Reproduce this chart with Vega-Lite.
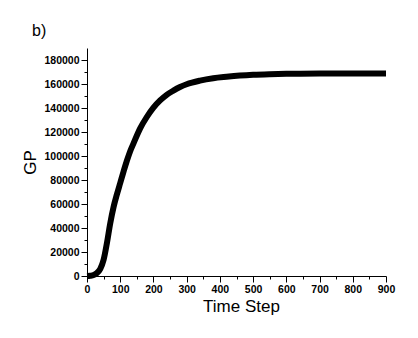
{
  "$schema": "https://vega.github.io/schema/vega-lite/v6.json",
  "width": 299,
  "height": 228,
  "autosize": {"type": "none"},
  "padding": {"left": 87, "top": 48, "right": 32, "bottom": 62},
  "background": "white",
  "title": {"text": "b)", "anchor": "start", "frame": "group", "dx": -55, "dy": 12, "offset": 8, "baseline": "alphabetic", "font": "Liberation Sans", "fontSize": 16, "fontWeight": "normal", "color": "black"},
  "config": {"view": {"stroke": null}},
  "data": {"values": [
    {"t": 0, "v": 0}, {"t": 10, "v": 200}, {"t": 20, "v": 800}, {"t": 30, "v": 2500},
    {"t": 40, "v": 6000}, {"t": 50, "v": 13500}, {"t": 60, "v": 27500}, {"t": 70, "v": 44000},
    {"t": 80, "v": 57500}, {"t": 90, "v": 68000}, {"t": 100, "v": 77500}, {"t": 110, "v": 87000},
    {"t": 120, "v": 96000}, {"t": 130, "v": 104000}, {"t": 140, "v": 110500}, {"t": 160, "v": 123000},
    {"t": 180, "v": 132500}, {"t": 200, "v": 140300}, {"t": 220, "v": 146300}, {"t": 240, "v": 151000},
    {"t": 260, "v": 154500}, {"t": 280, "v": 157500}, {"t": 300, "v": 159800}, {"t": 340, "v": 162800},
    {"t": 380, "v": 164800}, {"t": 420, "v": 166000}, {"t": 460, "v": 167000}, {"t": 500, "v": 167700},
    {"t": 550, "v": 168200}, {"t": 600, "v": 168500}, {"t": 700, "v": 168700}, {"t": 800, "v": 168800},
    {"t": 900, "v": 168800}
  ]},
  "mark": {"type": "line", "color": "black", "strokeWidth": 6, "interpolate": "monotone"},
  "encoding": {
    "x": {
      "field": "t", "type": "quantitative",
      "scale": {"domain": [0, 900], "nice": false, "zero": false},
      "axis": {
        "title": "Time Step",
        "titleFont": "Liberation Sans", "titleFontSize": 17, "titleFontWeight": "normal", "titleColor": "black", "titlePadding": 4,
        "titleX": 154,
        "values": [0, 50, 100, 150, 200, 250, 300, 350, 400, 450, 500, 550, 600, 650, 700, 750, 800, 850, 900],
        "labelExpr": "datum.value % 100 === 0 ? datum.label : ''",
        "format": "d",
        "tickSize": {"condition": {"test": "datum.value % 100 === 0", "value": 6}, "value": 3},
        "grid": false, "domainColor": "black", "tickColor": "black", "domainWidth": 1, "tickWidth": 1,
        "labelFont": "Liberation Sans", "labelFontSize": 10.5, "labelFontWeight": "bold", "labelColor": "black", "labelPadding": 2,
        "labelFlush": false, "labelOverlap": false
      }
    },
    "y": {
      "field": "v", "type": "quantitative",
      "scale": {"domain": [0, 190000], "nice": false},
      "axis": {
        "title": "GP",
        "titleFont": "Liberation Sans", "titleFontSize": 17, "titleFontWeight": "normal", "titleColor": "black", "titlePadding": 4,
        "values": [0, 10000, 20000, 30000, 40000, 50000, 60000, 70000, 80000, 90000, 100000, 110000, 120000, 130000, 140000, 150000, 160000, 170000, 180000],
        "labelExpr": "datum.value % 20000 === 0 ? datum.label : ''",
        "format": "d",
        "tickSize": {"condition": {"test": "datum.value % 20000 === 0", "value": 6}, "value": 3},
        "grid": false, "domainColor": "black", "tickColor": "black", "domainWidth": 1, "tickWidth": 1,
        "labelFont": "Liberation Sans", "labelFontSize": 10.5, "labelFontWeight": "bold", "labelColor": "black", "labelPadding": 2,
        "labelFlush": false, "labelOverlap": false
      }
    }
  }
}
